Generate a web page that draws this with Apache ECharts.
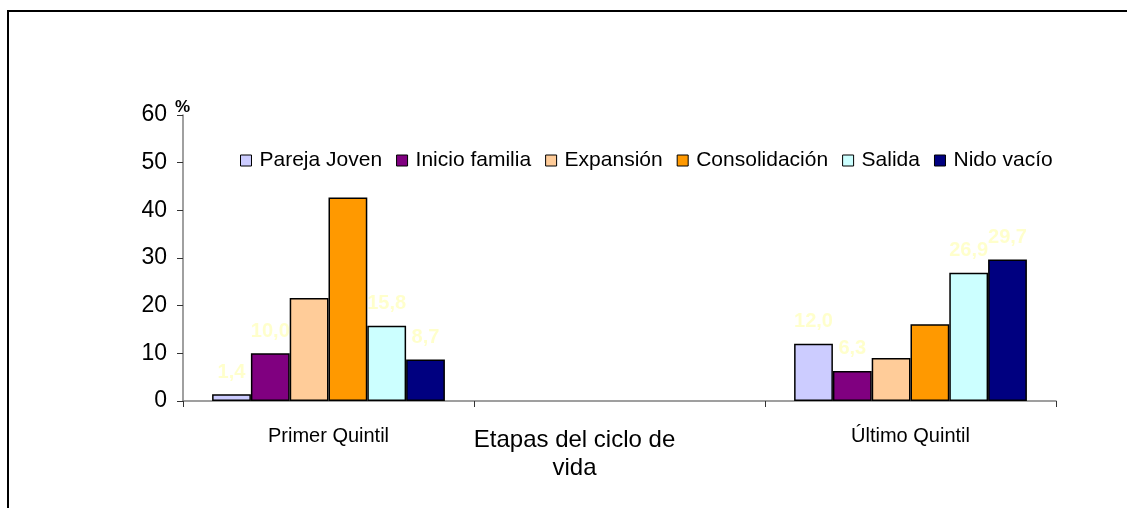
<!DOCTYPE html>
<html>
<head>
<meta charset="utf-8">
<script src="https://cdn.jsdelivr.net/npm/echarts@6/dist/echarts.min.js"></script>
<style>
html, body { margin: 0; padding: 0; background: #fff; }
#frame { position: absolute; left: 7px; top: 10px; width: 1200px; height: 600px; border-left: 2px solid #000; border-top: 2px solid #000; }
#chart { position: absolute; left: 0; top: 0; width: 1127px; height: 508px; }
</style>
</head>
<body>
<div id="frame"></div>
<div id="chart"></div>
<script>
// categorias del eje x (la del medio va vacia)
var categorias = ['Primer Quintil', '', 'Último Quintil'];
var etapas = ['Pareja Joven', 'Inicio familia', 'Expansión', 'Consolidación', 'Salida', 'Nido vacío'];
var colores = ['#CCCCFF', '#800080', '#FFCC99', '#FF9900', '#CCFFFF', '#000080'];

var parejaJoven = [1.4, '-', 12.0];
var inicioFamilia = [10.0, '-', 6.3];
var expansion = [21.6, '-', 9.0];
var consolidacion = [42.7, '-', 16.1];
var salida = [15.8, '-', 26.9];
var nidoVacio = [8.7, '-', 29.7];
var conEtiqueta = [true, true, false, false, true, true];

var yTicks = [0, 10, 20, 30, 40, 50, 60];

var datos = [parejaJoven, inicioFamilia, expansion, consolidacion, salida, nidoVacio];
var fuente = '"Liberation Sans", Arial, sans-serif';

var series = [];
for (var i = 0; i < etapas.length; i++) {
	series.push({
		name: etapas[i],
		type: 'bar',
		data: datos[i],
		barGap: 0,
		barCategoryGap: '20%',
		itemStyle: { color: colores[i], borderColor: '#000', borderWidth: 1.5 },
		label: {
			show: conEtiqueta[i],
			position: 'top',
			distance: 12,
			color: '#FFFFCC',
			fontWeight: 'bold',
			fontSize: 20,
			fontFamily: fuente,
			formatter: function (p) { return p.value.toFixed(1).replace('.', ','); }
		}
	});
}

var myChart = echarts.init(document.getElementById('chart'));
myChart.setOption({
	animation: false,
	textStyle: { fontFamily: fuente },
	legend: {
		data: etapas,
		left: 235,
		top: 145,
		itemWidth: 11,
		itemHeight: 11,
		itemGap: 14,
		icon: 'rect',
		itemStyle: { borderColor: '#000', borderWidth: 1 },
		textStyle: { fontSize: 21, color: '#000', fontFamily: fuente, padding: [0, 0, 0, 3] }
	},
	grid: { left: 183, right: 71, top: 115, bottom: 107, outerBoundsMode: 'none', containLabel: false },
	xAxis: {
		type: 'category',
		data: categorias,
		axisLine: { lineStyle: { color: '#808080', width: 1.5 } },
		axisTick: { show: true, length: 6, lineStyle: { color: '#333' } },
		axisLabel: { color: '#000', fontSize: 20, margin: 25, fontFamily: fuente },
		name: 'Etapas del ciclo de\nvida',
		nameLocation: 'middle',
		nameGap: 25,
		nameMoveOverlap: false,
		nameTextStyle: { color: '#000', fontSize: 24, lineHeight: 28, fontFamily: fuente, padding: [0, 90, 0, 0] }
	},
	yAxis: {
		type: 'value',
		min: yTicks[0],
		max: yTicks[yTicks.length - 1],
		interval: 10,
		name: '%',
		nameGap: -1,
		nameMoveOverlap: false,
		nameTextStyle: { color: '#000', fontSize: 17, fontWeight: 'bold', align: 'left', padding: [0, 0, 0, -8] },
		splitLine: { show: false },
		axisLine: { show: true, lineStyle: { color: '#808080', width: 1.5 } },
		axisTick: { show: true, length: 6, lineStyle: { color: '#333' } },
		axisLabel: { color: '#000', fontSize: 23, margin: 16, fontFamily: fuente }
	},
	series: series
});
</script>
</body>
</html>
